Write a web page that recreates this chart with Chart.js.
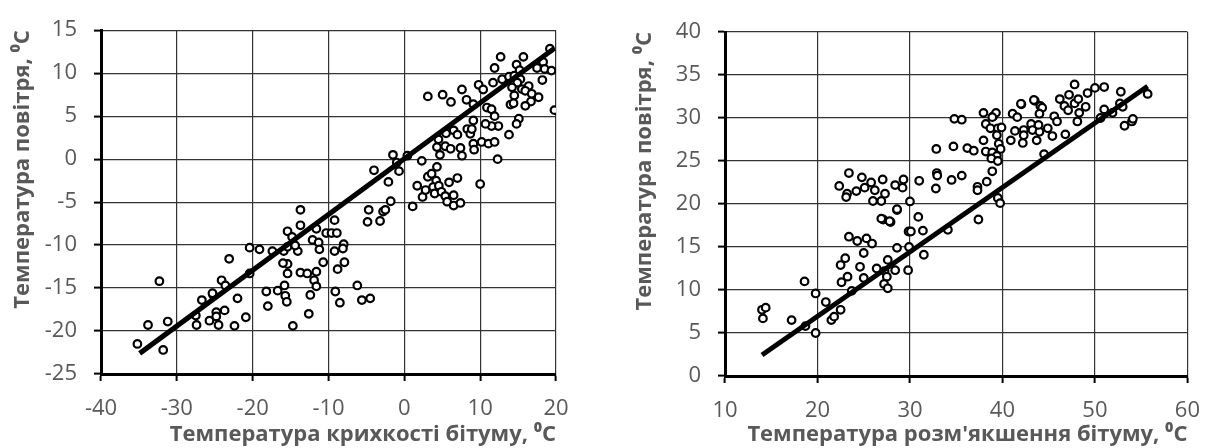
<!DOCTYPE html>
<html>
<head>
<meta charset="utf-8">
<script src="https://cdn.jsdelivr.net/npm/chart.js@4.4.1/dist/chart.umd.min.js"></script>
<style>
  body { margin: 0; background: #fff; }
  .box { position: absolute; top: 0; height: 448px; }
  #leftBox { left: 0; width: 600px; }
  #rightBox { left: 612px; width: 603px; }
</style>
</head>
<body>
<div class="box" id="leftBox"><canvas id="brittleChart"></canvas></div>
<div class="box" id="rightBox"><canvas id="softChart"></canvas></div>
<script>
// Left chart: brittleness temperature vs air temperature
const brittleX = [-35.2,-33.8,-32.3,-31.8,-31.2,-27.4,-27.5,-26.7,-25.7,-25.2,-24.8,-24.8,-24.5,-24.1,-23.6,-23.7,-22.4,-22.0,-23.1,-20.9,
  -20.4,-20.4,-19.1,-18.2,-18.0,-17.4,-16.7,-15.9,-15.8,-15.4,-15.4,-15.7,-15.5,-15.4,-15.4,-14.8,-14.7,-14.05,-13.7,-13.7,
  -13.7,-12.8,-12.4,-12.6,-12.1,-11.6,-11.3,-11.2,-11.6,-11.9,-11.6,-10.7,-10.3,-9.6,-9.2,-8.9,-9.2,-8.0,-8.1,-7.9,
  -8.8,-9.1,-8.5,-6.2,-5.6,-4.5,-4.7,-4.85,-2.8,-3.2,-2.5,-4.0,-2.1,-1.5,-1.0,-0.7,-1.8,0.4,2.3,1.1,
  1.7,2.4,3.1,3.6,4.3,4.2,3.8,4.55,5.9,7.0,4.0,4.9,5.4,6.5,5.65,6.5,7.4,10.0,12.3,2.8,
  3.1,5.05,6.15,7.6,8.2,9.1,9.8,10.4,10.9,11.5,11.7,11.9,12.7,12.9,13.8,14.5,14.8,15.2,15.7,15.3,
  14.9,14.2,14.5,15.5,16.4,15.95,16.8,17.7,16.7,15.95,14.0,14.4,17.5,18.3,18.5,19.4,18.2,19.2,19.8,9.1,
  11.9,12.4,11.5,10.7,15.1,14.8,13.8,6.5,5.5,7.0,8.3,8.7,8.9,4.5,4.3,5.4,6.1,7.4,7.6,4.7,
  9.1,9.2,10.2,11.1,11.9,-14.4,-16.0,-25.3];
const brittleY = [-21.5,-19.3,-14.2,-22.2,-18.9,-19.3,-18.2,-16.4,-18.8,-15.8,-17.8,-18.3,-19.3,-14.1,-14.7,-17.6,-19.4,-16.2,-11.6,-18.4,
  -10.3,-13.3,-10.5,-15.4,-17.1,-10.7,-15.3,-10.7,-14.7,-12.2,-13.3,-15.9,-16.6,-8.4,-10.2,-9.05,-19.4,-10.7,-5.9,-7.7,
  -13.2,-13.3,-15.8,-18.0,-9.4,-8.1,-9.7,-10.5,-13.1,-14.1,-14.8,-12.0,-8.6,-8.6,-7.1,-8.6,-10.7,-9.9,-10.4,-12.0,
  -12.8,-15.4,-16.7,-14.7,-16.4,-16.2,-5.9,-7.3,-6.1,-7.2,-5.9,-1.3,-2.65,0.5,-0.4,-1.4,-4.9,0.4,-0.2,-5.5,
  -3.1,-4.4,-2.05,-1.7,-0.9,-2.5,-3.25,-3.1,-2.7,-2.2,-4.0,-3.8,-4.3,-4.2,-4.95,-5.4,-5.1,-2.9,0.0,-3.6,
  7.3,7.5,6.65,8.1,6.9,6.4,8.65,8.1,6.0,5.8,8.9,10.6,11.9,9.3,9.6,9.7,11.0,10.35,11.9,9.3,
  8.9,8.35,7.4,8.15,8.5,7.95,7.6,7.2,6.7,6.2,6.35,6.5,10.6,11.3,10.5,10.3,9.2,12.85,5.7,4.5,
  5.0,3.85,3.85,4.1,4.7,4.1,2.85,3.35,3.0,2.85,3.5,2.95,3.5,2.3,1.4,1.5,1.2,1.3,0.4,0.5,
  1.8,1.1,2.0,1.8,2.0,-10.05,-12.1,-15.6];
const brittleTrendX = [-34.9, 19.8];
const brittleTrendY = [-22.6, 12.9];

// Right chart: softening temperature vs air temperature
const softX = [14.0,14.4,14.1,17.2,18.6,18.7,19.8,19.8,20.9,21.5,21.8,22.5,22.6,22.5,23.0,23.25,23.4,23.7,24.3,24.6,
  25.0,25.0,25.3,25.9,26.4,27.25,27.5,27.2,27.6,27.6,28.6,27.1,27.9,28.6,29.8,29.9,29.85,30.1,31.4,31.5,
  34.1,30.9,30.0,26.0,26.9,22.35,23.4,23.2,23.1,24.8,24.2,25.1,25.8,26.2,27.05,27.3,28.4,29.2,29.3,28.6,
  26.9,27.8,31.0,32.85,34.7,32.9,32.95,32.8,34.5,35.6,37.3,37.3,38.3,38.9,39.5,39.75,37.4,34.8,35.6,37.95,
  39.0,39.3,38.2,38.7,39.5,39.9,39.4,37.95,39.6,39.8,38.2,38.9,39.4,38.8,39.5,36.2,36.9,40.9,41.35,42.05,
  41.1,41.6,42.3,42.3,43.1,43.25,42.2,43.7,44.0,43.9,43.5,44.1,44.3,44.0,44.5,44.9,45.4,45.6,45.9,46.2,
  46.7,47.1,47.2,47.8,47.8,46.8,48.1,49.2,48.2,48.3,50.0,51.0,52.8,55.7,49.0,51.0,50.6,51.9,52.7,53.0,
  53.2,54.0,54.1,42.0,43.4,38.9,28.4];
const softY = [7.7,7.95,6.7,6.5,11.0,5.8,9.6,5.0,8.6,6.5,6.9,7.7,10.9,12.9,13.7,11.55,16.2,9.9,15.7,12.7,
  14.3,11.4,16.0,15.4,12.5,12.2,11.55,10.7,10.2,13.5,14.9,18.2,17.9,19.3,12.3,15.0,16.8,16.8,16.9,14.1,
  17.0,18.5,20.3,20.35,20.35,22.1,23.6,21.2,20.8,23.1,21.5,21.9,22.5,21.6,22.85,21.2,22.2,21.9,22.85,19.4,
  18.3,18.0,22.7,26.4,26.7,23.6,23.3,21.8,22.8,23.3,22.0,21.6,22.6,23.8,20.7,20.1,18.2,29.9,29.8,30.6,
  30.2,30.6,29.3,28.8,28.8,28.9,28.0,27.4,27.0,26.4,26.1,26.0,25.6,25.3,25.0,26.5,26.2,27.4,28.5,31.6,
  30.5,30.1,28.6,28.0,29.3,28.6,27.1,27.4,28.4,29.2,32.0,31.4,31.2,30.5,25.8,28.8,27.9,30.2,29.6,32.2,
  31.4,30.9,32.7,33.9,31.7,28.1,29.6,32.9,32.2,30.6,33.5,33.6,33.05,32.8,31.3,31.0,30.0,30.6,31.7,31.3,
  29.1,29.6,29.9,31.65,32.1,30.1,12.3];
const softTrendX = [14.0, 55.7];
const softTrendY = [2.45, 33.7];

const gray = '#595959';
Chart.defaults.font.family = '"Open Sans", sans-serif';
Chart.defaults.color = gray;

function toPoints(xs, ys) {
  return xs.map((x, i) => ({ x, y: ys[i] }));
}

function makeChart(id, pts, trend, xr, yr, xTitle, yTitle, pad, yWidth, xHeight) {
  new Chart(document.getElementById(id), {
    type: 'scatter',
    data: {
      datasets: [
        {
          data: pts,
          pointRadius: 3.8,
          pointBorderWidth: 2.2,
          pointBorderColor: '#000',
          pointBackgroundColor: '#fff',
          order: 2
        },
        {
          type: 'line',
          data: trend,
          borderColor: '#000',
          borderWidth: 5,
          pointRadius: 0,
          fill: false,
          order: 1
        }
      ]
    },
    options: {
      responsive: true,
      maintainAspectRatio: false,
      animation: false,
      layout: { padding: pad },
      plugins: { legend: { display: false }, tooltip: { enabled: false } },
      scales: {
        x: {
          type: 'linear',
          min: xr[0], max: xr[1],
          afterFit: s => { s.height = xHeight; },
          ticks: { stepSize: xr[2], font: { size: 22 }, color: gray, padding: 15 },
          grid: { color: '#333', lineWidth: 1.2, tickLength: 7, tickColor: '#000', tickWidth: 2 },
          border: { color: '#000', width: 3 },
          title: { display: true, text: xTitle, align: 'end', font: { size: 22, weight: 'bold' }, color: gray, padding: { top: 0, bottom: 0 } }
        },
        y: {
          min: yr[0], max: yr[1],
          afterFit: s => { s.width = yWidth; },
          ticks: { stepSize: yr[2], font: { size: 22 }, color: gray, padding: 17 },
          grid: { color: '#333', lineWidth: 1.2, tickLength: 7, tickColor: '#000', tickWidth: 2 },
          border: { color: '#000', width: 3 },
          title: { display: true, text: yTitle, align: 'end', font: { size: 22, weight: 'bold' }, color: gray, padding: { top: 0, bottom: 4 } }
        }
      }
    }
  });
}

makeChart('brittleChart', toPoints(brittleX, brittleY), toPoints(brittleTrendX, brittleTrendY),
  [-40, 20, 10], [-25, 15, 5],
  'Температура крихкості бітуму, ⁰C', 'Температура повітря, ⁰C',
  { top: 23, right: 44, bottom: 0, left: 10 }, 91, 74);

makeChart('softChart', toPoints(softX, softY), toPoints(softTrendX, softTrendY),
  [10, 60, 10], [0, 40, 5],
  "Температура розм'якшення бітуму, ⁰C", 'Температура повітря, ⁰C',
  { top: 32, right: 23, bottom: 0, left: 20 }, 93, 72);
</script>
</body>
</html>
